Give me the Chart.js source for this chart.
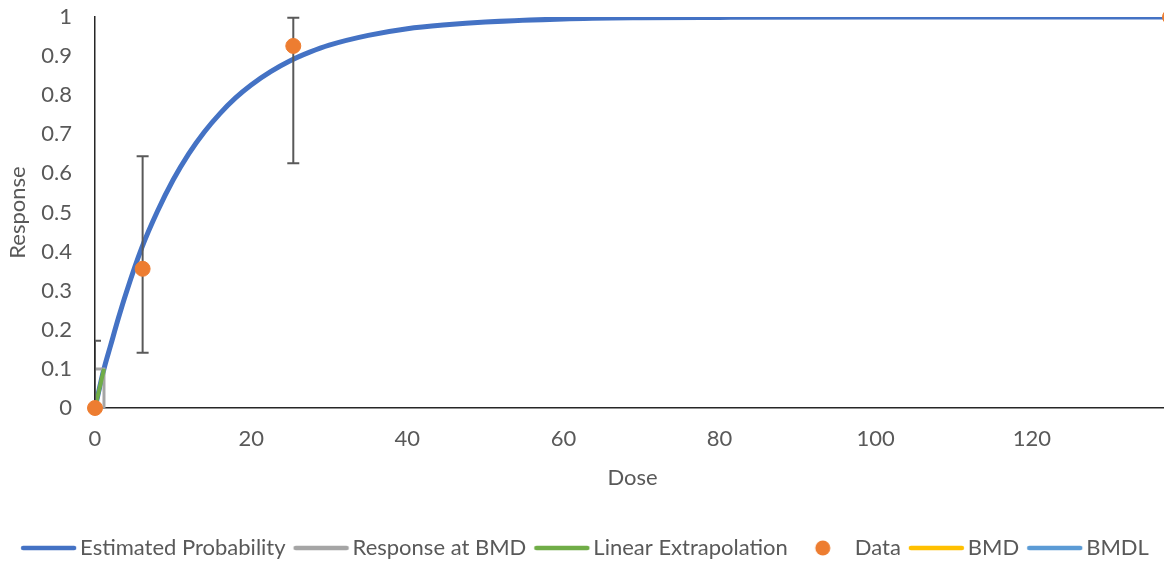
<!DOCTYPE html>
<html>
<head>
<meta charset="utf-8">
<script src="https://cdn.jsdelivr.net/npm/chart.js@4.4.1/dist/chart.umd.min.js"></script>
<style>
	body { margin: 0; background: #fff; overflow: hidden; }
	/* plot runs slightly past the right edge of the window, like the cropped original */
	#wrap { width: 1170px; height: 562px; }
</style>
</head>
<body>
<div id="wrap"><canvas id="myChart"></canvas></div>
<script>
// estimated probability curve
var curveDose = [0, 1.15, 2, 3, 4, 6, 8, 10, 12, 14, 16, 18, 20, 22.5, 25, 27.5, 30, 35, 40, 45, 50, 60, 70, 80, 100, 120, 137.7];
var curveProb = [0, 0.1, 0.16, 0.23, 0.295, 0.41, 0.503, 0.583, 0.65, 0.706, 0.753, 0.793, 0.826, 0.86, 0.888, 0.91, 0.928, 0.953, 0.97, 0.98, 0.987, 0.995, 0.998, 0.999, 1, 1, 1];

// observed data + confidence limits
var dataDose = [0, 6.1, 25.4, 137.7];
var dataResp = [0, 0.356, 0.926, 1];
var errLow = [0, 0.141, 0.626, 0.79];
var errHigh = [0.172, 0.644, 0.998, 1];

// benchmark dose
var bmd = 1.15;
var bmr = 0.1;

var xMax = 137.7;
var yTicks = [0, 0.1, 0.2, 0.3, 0.4, 0.5, 0.6, 0.7, 0.8, 0.9, 1];

var FONT = 'Lato, "Noto Sans", sans-serif';
var TEXT = '#595959';
var AXIS = '#262626';

function pts(xs, ys) {
	return xs.map(function(x, i) { return { x: x, y: ys[i] }; });
}

// legend swatches: a long line, or the orange dot
function swatch(color, isDot) {
	var c = document.createElement('canvas');
	c.width = 66; c.height = 16;
	var g = c.getContext('2d');
	if (isDot) {
		g.fillStyle = color;
		g.beginPath();
		g.arc(36, 8, 7.5, 0, Math.PI * 2);
		g.fill();
	} else {
		g.strokeStyle = color;
		g.lineWidth = 4.5;
		g.lineCap = 'round';
		g.beginPath();
		g.moveTo(11, 8);
		g.lineTo(62, 8);
		g.stroke();
	}
	return c;
}

var errorBars = {
	id: 'errorBars',
	beforeDatasetDraw: function(chart, args) {
		if (args.index !== 3) return;
		var ctx = chart.ctx, xs = chart.scales.x, ys = chart.scales.y, a = chart.chartArea;
		ctx.save();
		ctx.beginPath();
		ctx.rect(a.left, a.top - 2, a.right - a.left, a.bottom - a.top + 4);
		ctx.clip();
		ctx.strokeStyle = '#595959';
		ctx.lineWidth = 2;
		dataDose.forEach(function(d, i) {
			var px = xs.getPixelForValue(d);
			var lo = ys.getPixelForValue(errLow[i]);
			var hi = ys.getPixelForValue(errHigh[i]);
			ctx.beginPath();
			ctx.moveTo(px, lo); ctx.lineTo(px, hi);
			ctx.moveTo(px - 6, lo); ctx.lineTo(px + 6, lo);
			ctx.moveTo(px - 6, hi); ctx.lineTo(px + 6, hi);
			ctx.stroke();
		});
		ctx.restore();
	}
};

var ctx = document.getElementById('myChart').getContext('2d');

var data = {
	datasets: [{
		label: 'Estimated Probability',
		data: pts(curveDose, curveProb),
		borderColor: '#4472C4',
		borderWidth: 5,
		pointRadius: 0,
		cubicInterpolationMode: 'monotone',
		order: 4
	}, {
		label: 'Response at BMD',
		data: [{ x: 0, y: bmr }, { x: bmd, y: bmr }, { x: bmd, y: 0 }],
		borderColor: '#A5A5A5',
		borderWidth: 3,
		pointRadius: 0,
		order: 2
	}, {
		label: 'Linear Extrapolation',
		data: [{ x: 0, y: 0 }, { x: bmd, y: bmr }],
		borderColor: '#70AD47',
		borderWidth: 4,
		pointRadius: 0,
		order: 1
	}, {
		label: 'Data',
		data: pts(dataDose, dataResp),
		showLine: false,
		backgroundColor: '#ED7D31',
		borderColor: '#ED7D31',
		pointRadius: 7.5,
		clip: 10,
		order: 0
	}, {
		label: 'BMD',
		data: [],
		borderColor: '#FFC000',
		order: 5
	}, {
		label: 'BMDL',
		data: [],
		borderColor: '#5B9BD5',
		order: 6
	}, {
		label: 'marker',
		data: [{ x: bmd, y: 0 }, { x: bmd, y: bmr }],
		borderColor: AXIS,
		borderWidth: 1.5,
		pointRadius: 0,
		order: 3
	}]
};

var myChart = new Chart(ctx, {
	type: 'line',
	data: data,
	plugins: [errorBars],
	options: {
		responsive: true,
		maintainAspectRatio: false,
		animation: false,
		layout: { autoPadding: false, padding: { left: 0, right: 0, top: 0, bottom: -7 } },
		plugins: {
			tooltip: { enabled: false },
			legend: {
				position: 'bottom',
				labels: {
					usePointStyle: true,
					pointStyleWidth: 48,
					boxHeight: 10,
					padding: 8,
					color: TEXT,
					font: { family: FONT, size: 22 },
					generateLabels: function(chart) {
						return chart.data.datasets.slice(0, 6).map(function(ds, i) {
							return {
								text: ds.label,
								datasetIndex: i,
								pointStyle: swatch(ds.borderColor, ds.label === 'Data'),
								strokeStyle: ds.borderColor,
								fillStyle: ds.borderColor,
								lineWidth: 0,
								fontColor: TEXT
							};
						});
					}
				}
			}
		},
		scales: {
			x: {
				type: 'linear',
				min: 0,
				max: xMax,
				afterFit: function(scale) {
					scale.paddingLeft = 0;
					scale.paddingRight = 0;
					scale.height = 121;
				},
				grid: { display: false, drawTicks: false },
				border: { display: true, color: AXIS, width: 1.5 },
				ticks: {
					stepSize: 20,
					includeBounds: false,
					padding: 18,
					color: TEXT,
					font: { family: FONT, size: 22 }
				},
				title: {
					display: true,
					text: 'Dose',
					color: TEXT,
					font: { family: FONT, size: 22 },
					padding: { top: 12, bottom: 37.5 }
				}
			},
			y: {
				type: 'linear',
				min: 0,
				max: 1,
				afterBuildTicks: function(axis) {
					axis.ticks = yTicks.map(function(v) { return { value: v }; });
				},
				afterFit: function(scale) {
					scale.width = 95;
					scale.paddingTop = 17;
					scale.paddingBottom = 0;
				},
				grid: { display: false, drawTicks: false },
				border: { display: true, color: AXIS, width: 1.5 },
				ticks: {
					padding: 23,
					color: TEXT,
					font: { family: FONT, size: 22 },
					callback: function(v) { return String(Math.round(v * 10) / 10); }
				},
				title: {
					display: true,
					text: 'Response',
					color: TEXT,
					font: { family: FONT, size: 22 },
					padding: { top: 5, bottom: 0 }
				}
			}
		}
	}
});
</script>
</body>
</html>
